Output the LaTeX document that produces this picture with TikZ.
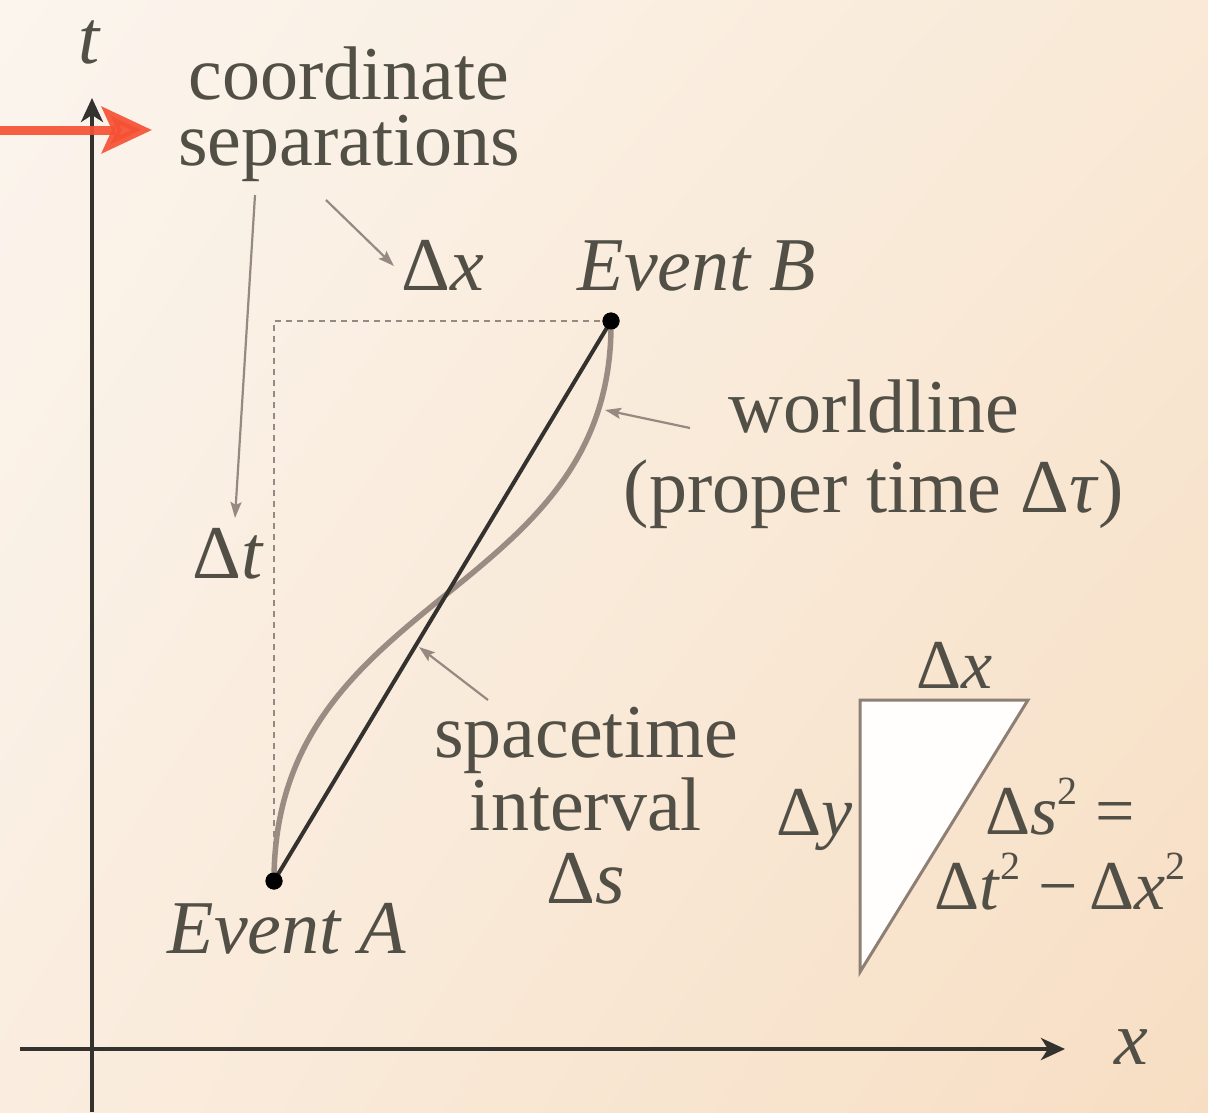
\documentclass[tikz,border=0pt]{standalone}
\usepackage{fontspec}
\setmainfont{Liberation Serif}
\usetikzlibrary{arrows.meta,shadings}
\definecolor{ink}{RGB}{82,80,70}
\definecolor{axiscol}{RGB}{52,50,47}
\definecolor{leadcol}{RGB}{150,137,130}
\definecolor{wlcol}{RGB}{155,140,131}
\definecolor{redcol}{RGB}{245,82,52}
\definecolor{tricol}{RGB}{142,127,117}
\definecolor{bgUL}{RGB}{251,245,238}
\definecolor{bgUR}{RGB}{249,233,214}
\definecolor{bgLL}{RGB}{250,237,223}
\definecolor{bgLR}{RGB}{247,222,195}
\newcommand{\sq}{\raisebox{0.42em}{\fontsize{40}{40}\selectfont 2}}
\begin{document}
\begin{tikzpicture}[x=1pt,y=-1pt,
  axisline/.style={draw=axiscol,line width=4pt,-{Stealth[length=24pt,width=22pt,inset=7pt]}},
  redarrow/.style={draw=redcol,line width=9pt,-{Stealth[length=50pt,width=46pt,inset=10pt]}},
  leader/.style={draw=leadcol,line width=2.2pt,-{Stealth[length=16pt,width=11pt,inset=3pt]}},
  lbl/.style={text=ink,inner sep=0pt,font=\fontsize{76}{64}\selectfont},
  smalllbl/.style={text=ink,inner sep=0pt,font=\fontsize{70}{75}\selectfont},
  dot/.style={circle,fill=black,inner sep=0pt,minimum size=17pt},
  worldline/.style={draw=wlcol,line width=5.5pt},
  interval/.style={draw=axiscol,line width=4pt},
  guide/.style={draw=leadcol,line width=2pt,dash pattern=on 6pt off 5pt},
  tri/.style={draw=tricol,line width=3pt,fill=white!88!bgUL,line join=miter}
]
\useasboundingbox (0,0) rectangle (1208,1112);
\shade[upper left=bgUL,upper right=bgUR,lower left=bgLL,lower right=bgLR] (0,0) rectangle (1208,1112);

% events
\node[dot] (A) at (274,881) {};
\node[dot] (B) at (611,321) {};

% guides and lines
\draw[guide] (A.center) |- (B.center);
\draw[worldline] (A.center) .. controls (274,590) and (614,600) .. (B.center);
\draw[interval] (A.center) -- (B.center);
\node[dot] at (A) {};
\node[dot] at (B) {};

% triangle
\coordinate (T1) at (860,700);
\coordinate (T2) at (1028,700);
\coordinate (T3) at (860,972);
\draw[tri] (T1) -- (T2) -- (T3) -- cycle;

% labels
\node[lbl,align=center,font=\fontsize{76}{66}\selectfont] (cs) at (349,114) {coordinate\\separations};
\node[lbl,anchor=base] (dx) at (443,290) {Δ\textit{x}};
\node[lbl,anchor=base] (dt) at (228,578) {Δ\textit{t}};
\node[lbl,anchor=base] (evB) at (697,290) {\textit{Event B}};
\node[lbl,anchor=base] (evA) at (287,953) {\textit{Event A}};
\node[lbl,align=center,font=\fontsize{76}{80}\selectfont] (wl) at (874,454) {worldline\\(proper time Δ\textit{τ})};
\node[lbl,align=center,font=\fontsize{76}{73}\selectfont] (si) at (586,806) {spacetime\\interval\\Δ\textit{s}};
\node[smalllbl,anchor=base] (tdx) at (955,688) {Δ\textit{x}};
\node[smalllbl,anchor=base] (tdy) at (815,835) {Δ\textit{y}};
\node[smalllbl,align=center] (eq) at (1060,844) {Δ\textit{s}\sq{} =\\Δ\textit{t}\sq{} −\,Δ\textit{x}\sq};
\node[lbl,anchor=base] (tlab) at (90,63) {\textit{t}};
\node[lbl,anchor=base] (xlab) at (1131,1064) {\textit{x}};

% leaders
\coordinate (l1s) at (255,195); \coordinate (l1e) at (235,518);
\coordinate (l2s) at (326,200); \coordinate (l2e) at (394,266);
\coordinate (l3s) at (690,428); \coordinate (l3e) at (605,410);
\coordinate (l4s) at (488,700); \coordinate (l4e) at (419,647);
\draw[leader] (l1s) -- (l1e);
\draw[leader] (l2s) -- (l2e);
\draw[leader] (l3s) -- (l3e);
\draw[leader] (l4s) -- (l4e);

% axes
\coordinate (tb) at (92,1112);
\coordinate (tt) at (92,98);
\coordinate (xa) at (20,1049);
\coordinate (xb) at (1065,1049);
\draw[axisline] (tb) -- (tt);
\draw[axisline] (xa) -- (xb);

% red pointer
\coordinate (r0) at (0,130);
\coordinate (r1) at (152,130);
\draw[redarrow,opacity=0.92] (r0) -- (r1);
\end{tikzpicture}
\end{document}
